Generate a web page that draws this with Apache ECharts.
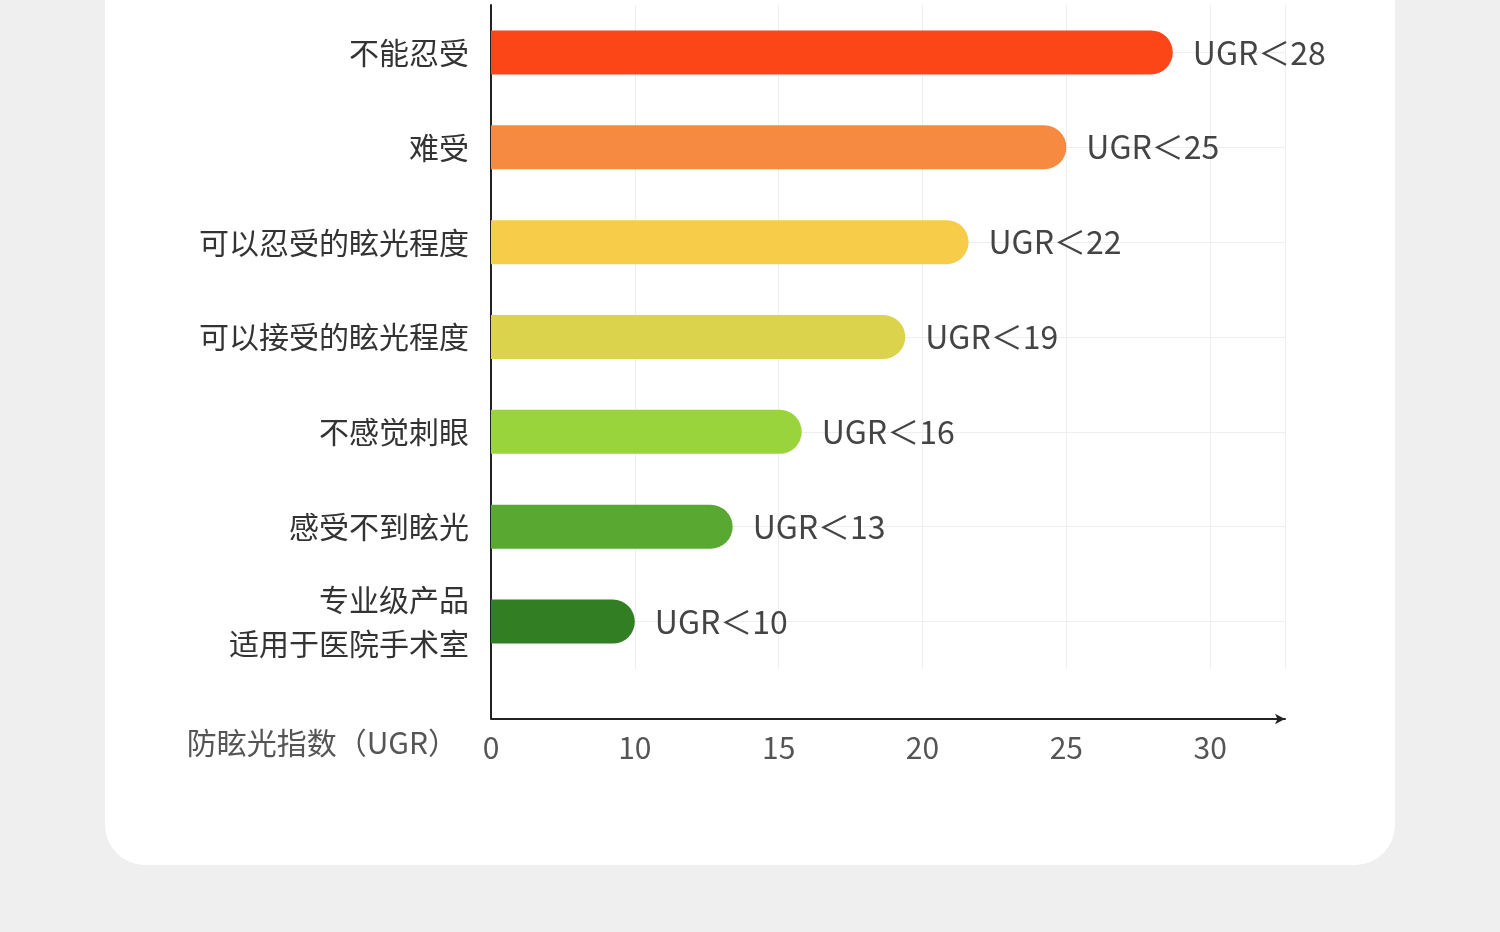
<!DOCTYPE html>
<html><head><meta charset="utf-8">
<script src="https://cdn.jsdelivr.net/npm/echarts@6/dist/echarts.min.js"></script>
<style>
html,body{margin:0;padding:0;background:#efefef;width:1500px;height:932px;overflow:hidden;}
#card{position:absolute;left:105px;top:-40px;width:1290px;height:905px;background:#fff;border-radius:40px;}
#main{position:absolute;left:0;top:0;width:1500px;height:932px;}
</style></head>
<body>
<div id="card"></div>
<div id="main"></div>
<script>
// 类别（从上到下）
const categories = ['不能忍受', '难受', '可以忍受的眩光程度', '可以接受的眩光程度', '不感觉刺眼', '感受不到眩光', '专业级产品\n适用于医院手术室'];
const values = [28.7, 25, 21.6, 19.4, 15.8, 13.4, 10];
const valueLabels = ['UGR＜28', 'UGR＜25', 'UGR＜22', 'UGR＜19', 'UGR＜16', 'UGR＜13', 'UGR＜10'];
const barColors = ['#fc4617', '#f58a40', '#f7cc48', '#dcd34c', '#9ad43c', '#58a832', '#317f22'];
const font = '"Noto Sans CJK SC", "Noto Sans", sans-serif';

let chart = echarts.init(document.getElementById('main'));
let option = {
    grid: {left: 491, right: 215, top: 5, height: 664},
    graphic: [
        {type: 'line', shape: {x1: 491, y1: 669, x2: 491, y2: 719}, style: {stroke: '#222', lineWidth: 2}},
        {type: 'text', right: 1500 - 458, top: 728, style: {text: '防眩光指数（UGR）', font: '30px ' + font, fill: '#555', textAlign: 'right'}}
    ],
    xAxis: {
        type: 'value', min: 5, max: 32.6, interval: 5, offset: 50,
        axisLine: {show: true, lineStyle: {color: '#222', width: 2}, symbol: ['none', 'arrow'], symbolSize: [8, 10]},
        axisTick: {show: false},
        splitLine: {lineStyle: {color: '#eeeeee'}},
        axisLabel: {
            showMaxLabel: false, fontSize: 30, color: '#555', fontFamily: font, margin: 14,
            formatter: v => v === 5 ? '0' : String(v)
        }
    },
    yAxis: {
        type: 'category', inverse: true, data: categories,
        axisLine: {show: true, lineStyle: {color: '#222', width: 2}},
        axisTick: {show: false},
        axisLabel: {fontSize: 30, color: '#333', fontFamily: font, margin: 22, lineHeight: 44, align: 'right'}
    },
    series: [{
        type: 'bar', barWidth: 44,
        data: values.map((v, i) => ({value: v, itemStyle: {color: barColors[i]}})),
        itemStyle: {borderRadius: [0, 22, 22, 0]},
        label: {
            show: true, position: 'right', distance: 20, fontSize: 32, color: '#444', fontFamily: font,
            formatter: p => valueLabels[p.dataIndex]
        },
        markLine: {
            silent: true, symbol: 'none', label: {show: false}, z: 0,
            lineStyle: {color: '#eeeeee', type: 'solid', width: 1},
            data: categories.map(c => ({yAxis: c}))
        }
    }]
};
chart.setOption(option, true);
</script>
</body></html>
